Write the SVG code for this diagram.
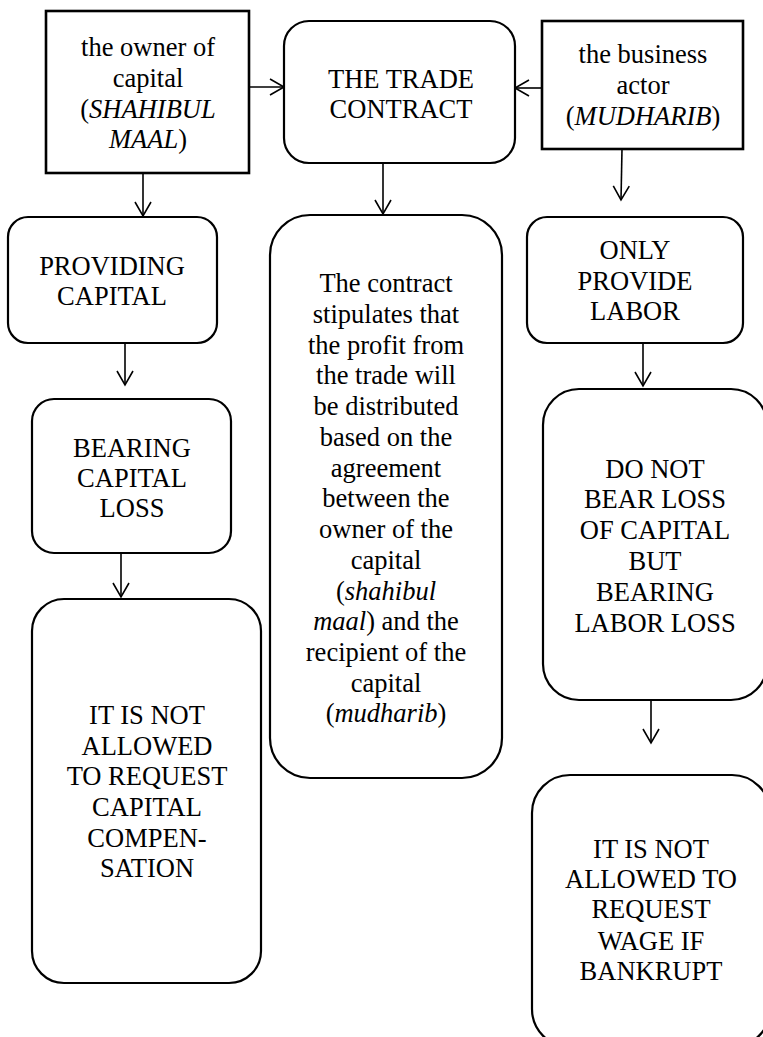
<svg xmlns="http://www.w3.org/2000/svg" width="763" height="1037" viewBox="0 0 763 1037">
<style>
.sq{fill:#fff;stroke:#000;stroke-width:2.6}
.rd{fill:#fff;stroke:#000;stroke-width:2.2}
.c{fill:none;stroke:#000;stroke-width:1.6}
text{font-family:"Liberation Serif","Times New Roman",serif;font-size:26.5px;fill:#000;text-anchor:middle}
.i{font-style:italic}
</style>
<defs>
<marker id="ah" markerWidth="20" markerHeight="20" refX="15" refY="9" orient="auto" markerUnits="userSpaceOnUse">
<path d="M1,1 L15,9 L1,17" fill="none" stroke="#000" stroke-width="1.6"/>
</marker>
</defs>
<rect width="763" height="1037" fill="#fff"/>
<g id="connectors">
<line class="c" x1="249" y1="87" x2="284" y2="87" marker-end="url(#ah)"/>
<line class="c" x1="542" y1="88" x2="515" y2="88" marker-end="url(#ah)"/>
<line class="c" x1="143" y1="173" x2="143" y2="216" marker-end="url(#ah)"/>
<line class="c" x1="383" y1="163" x2="383" y2="214" marker-end="url(#ah)"/>
<line class="c" x1="622" y1="149" x2="621" y2="200" marker-end="url(#ah)"/>
<line class="c" x1="125" y1="343" x2="125" y2="385" marker-end="url(#ah)"/>
<line class="c" x1="121" y1="553" x2="121" y2="597" marker-end="url(#ah)"/>
<line class="c" x1="643" y1="343" x2="643" y2="386" marker-end="url(#ah)"/>
<line class="c" x1="651" y1="700" x2="651" y2="743" marker-end="url(#ah)"/>
</g>
<g id="owner">
<rect class="sq" x="46" y="11" width="203" height="162"/>
<text x="148" y="56">the owner of</text>
<text x="148" y="87">capital</text>
<text x="148" y="118">(<tspan class="i">SHAHIBUL</tspan></text>
<text x="148" y="148"><tspan class="i">MAAL</tspan>)</text>
</g>
<g id="contract">
<rect class="rd" x="284" y="21" width="231" height="142" rx="25" ry="25"/>
<text x="401" y="88">THE TRADE</text>
<text x="401" y="118">CONTRACT</text>
</g>
<g id="actor">
<rect class="sq" x="542" y="21" width="201" height="128"/>
<text x="643" y="63">the business</text>
<text x="643" y="94">actor</text>
<text x="643" y="125">(<tspan class="i">MUDHARIB</tspan>)</text>
</g>
<g id="providing">
<rect class="rd" x="8" y="217" width="209" height="126" rx="20" ry="20"/>
<text x="112" y="275">PROVIDING</text>
<text x="112" y="305">CAPITAL</text>
</g>
<g id="bearing">
<rect class="rd" x="32" y="399" width="199" height="154" rx="22" ry="22"/>
<text x="132" y="457">BEARING</text>
<text x="132" y="487">CAPITAL</text>
<text x="132" y="517">LOSS</text>
</g>
<g id="not-allowed-capital">
<rect class="rd" x="32" y="599" width="229" height="384" rx="32" ry="32"/>
<text x="147" y="724">IT IS NOT</text>
<text x="147" y="755">ALLOWED</text>
<text x="147" y="785">TO REQUEST</text>
<text x="147" y="816">CAPITAL</text>
<text x="147" y="847">COMPEN-</text>
<text x="147" y="877">SATION</text>
</g>
<g id="contract-body">
<rect class="rd" x="270" y="215" width="232" height="563" rx="40" ry="40"/>
<text x="386" y="292">The contract</text>
<text x="386" y="323">stipulates that</text>
<text x="386" y="354">the profit from</text>
<text x="386" y="384">the trade will</text>
<text x="386" y="415">be distributed</text>
<text x="386" y="446">based on the</text>
<text x="386" y="477">agreement</text>
<text x="386" y="507">between the</text>
<text x="386" y="538">owner of the</text>
<text x="386" y="569">capital</text>
<text x="386" y="600">(<tspan class="i">shahibul</tspan></text>
<text x="386" y="630"><tspan class="i">maal</tspan>) and the</text>
<text x="386" y="661">recipient of the</text>
<text x="386" y="692">capital</text>
<text x="386" y="722">(<tspan class="i">mudharib</tspan>)</text>
</g>
<g id="only-labor">
<rect class="rd" x="527" y="217" width="216" height="126" rx="20" ry="20"/>
<text x="635" y="259">ONLY</text>
<text x="635" y="290">PROVIDE</text>
<text x="635" y="320">LABOR</text>
</g>
<g id="no-capital-loss">
<rect class="rd" x="543" y="389" width="224" height="311" rx="36" ry="36"/>
<text x="655" y="478">DO NOT</text>
<text x="655" y="508">BEAR LOSS</text>
<text x="655" y="539">OF CAPITAL</text>
<text x="655" y="570">BUT</text>
<text x="655" y="601">BEARING</text>
<text x="655" y="632">LABOR LOSS</text>
</g>
<g id="no-wage">
<rect class="rd" x="532" y="775" width="238" height="272" rx="38" ry="38"/>
<text x="651" y="858">IT IS NOT</text>
<text x="651" y="888">ALLOWED TO</text>
<text x="651" y="918">REQUEST</text>
<text x="651" y="950">WAGE IF</text>
<text x="651" y="980">BANKRUPT</text>
</g>
</svg>
